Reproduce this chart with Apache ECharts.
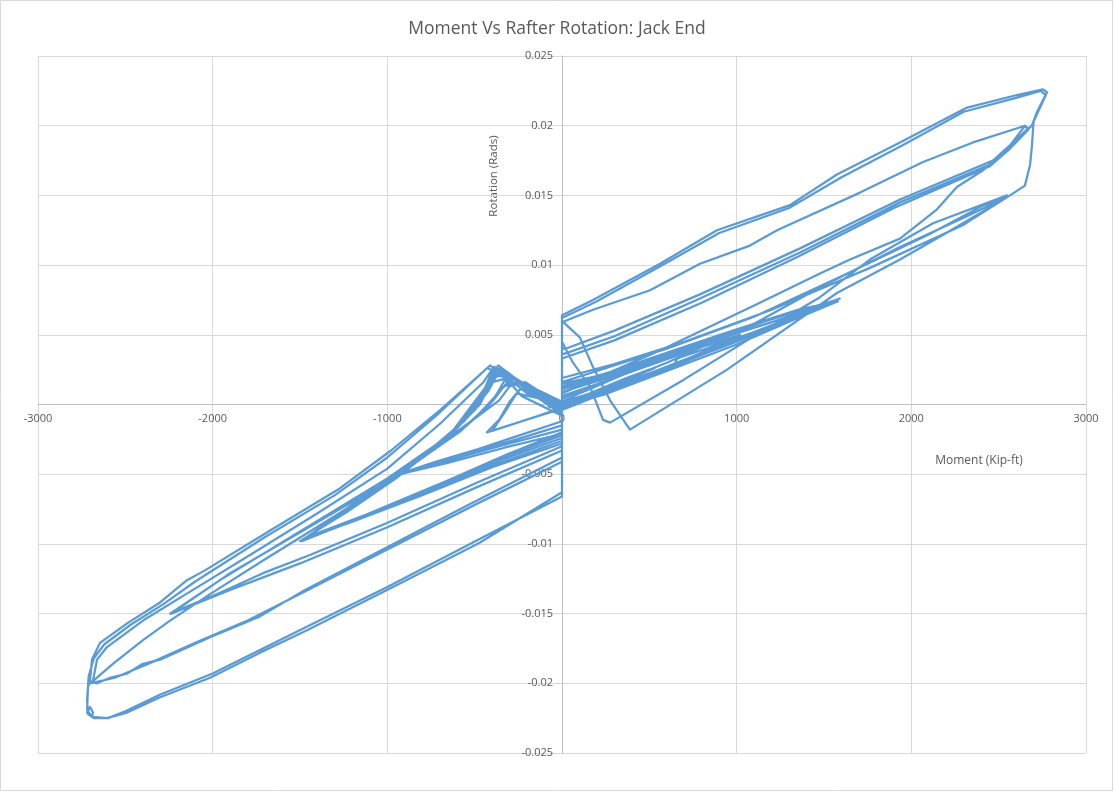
<!DOCTYPE html>
<html>
<head>
<meta charset="utf-8">
<script src="https://cdn.jsdelivr.net/npm/echarts@6/dist/echarts.min.js"></script>
<style>
  html, body { margin: 0; padding: 0; background: #ffffff; }
  #chart { width: 1114px; height: 792px; }
</style>
</head>
<body>
<div id="chart"></div>
<script>
// Moment (kip-ft) vs rafter rotation (rad), cyclic test record, one block per amplitude group.
const warmUp = [
  [0,0],[130,0.0006],[280,0.0013],[430,0.0021],[530,0.0026],[400,0.0020],[220,0.0011],[70,0.0003],[0,-0.0002],
  [-130,-0.0008],[-280,-0.0014],[-430,-0.0020],[-360,-0.0011],[-300,0.0002],[-240,0.0011],[-130,0.0007],[0,0.0001],
  [160,0.0008],[320,0.0016],[500,0.0025],[350,0.0018],[140,0.0007],[0,-0.0003],
  [-180,-0.0010],[-400,-0.0019],[-330,-0.0006],[-260,0.0008],[-150,0.0005],[0,0]
];

const cycles005 = [
  [220,0.0009],[480,0.0021],[740,0.0034],[1000,0.0048],[820,0.0042],[520,0.0030],[230,0.0016],[0,0.0006],
  [0,-0.0012],[-240,-0.0022],[-480,-0.0032],[-720,-0.0041],[-939,-0.0050],[-720,-0.0030],[-520,-0.0012],[-360,0.0003],[-300,0.0013],[-210,0.0016],[-100,0.0007],[0,-0.0002],
  [180,0.0006],[420,0.0018],[700,0.0031],[980,0.0046],[860,0.0045],[560,0.0033],[260,0.0019],[0,0.0009],
  [0,-0.0015],[-260,-0.0025],[-560,-0.0036],[-920,-0.0049],[-700,-0.0029],[-500,-0.0010],[-380,0.0006],[-330,0.0017],[-230,0.0014],[-80,0.0004],[0,-0.0004],
  [300,0.0011],[620,0.0026],[1020,0.0050],[840,0.0043],[430,0.0025],[120,0.0011],[0,0.0004],
  [0,-0.0018],[-300,-0.0028],[-620,-0.0039],[-950,-0.0051],[-760,-0.0034],[-540,-0.0014],[-400,0.0002],[-320,0.0015],[-240,0.0015],[0,0],
  [260,0.0012],[560,0.0025],[900,0.0041],[1010,0.0049],[760,0.0040],[380,0.0023],[100,0.0008],[0,0.0002],
  [0,-0.0021],[-330,-0.0031],[-660,-0.0042],[-930,-0.0050],[-740,-0.0033],[-580,-0.0019],[-420,-0.0001],[-350,0.0012],[-260,0.0016],[-120,0.0005],[0,-0.0001]
];

const cycles0075 = [
  [250,0.0009],[600,0.0026],[1000,0.0045],[1300,0.0060],[1574,0.0075],[1320,0.0066],[950,0.0051],[560,0.0034],[200,0.0018],[0,0.0011],
  [0,-0.0020],[-320,-0.0036],[-700,-0.0057],[-1100,-0.0078],[-1480,-0.0097],[-1200,-0.0073],[-900,-0.0047],[-640,-0.0022],[-470,0.0000],[-390,0.0020],[-300,0.0021],[-150,0.0009],[0,0.0001],
  [280,0.0010],[650,0.0028],[1050,0.0048],[1560,0.0074],[1280,0.0064],[880,0.0049],[480,0.0032],[150,0.0017],[0,0.0012],
  [0,-0.0024],[-350,-0.0040],[-750,-0.0061],[-1150,-0.0081],[-1490,-0.0098],[-1180,-0.0070],[-860,-0.0043],[-620,-0.0019],[-460,0.0004],[-380,0.0022],[-260,0.0018],[0,0],
  [220,0.0008],[500,0.0022],[640,0.0028],[660,0.0033],[1100,0.0052],[1590,0.0076],[1300,0.0063],[900,0.0047],[400,0.0028],[0,0.0013],
  [0,-0.0028],[-400,-0.0045],[-800,-0.0065],[-1200,-0.0084],[-1470,-0.0096],[-1150,-0.0067],[-800,-0.0038],[-560,-0.0012],[-420,0.0010],[-360,0.0024],[-230,0.0016],[0,0.0002],
  [330,0.0014],[700,0.0032],[1150,0.0053],[1400,0.0066],[1580,0.0074],[1350,0.0068],[1000,0.0054],[620,0.0038],[260,0.0022],[0,0.0015],
  [0,-0.0026],[-380,-0.0043],[-780,-0.0062],[-1180,-0.0083],[-1500,-0.0098],[-1230,-0.0077],[-940,-0.0052],[-700,-0.0028],[-500,-0.0004],[-400,0.0016],[-280,0.0020],[-120,0.0007],[0,-0.0001],
  [240,0.0007],[600,0.0024],[1000,0.0043],[1350,0.0062],[1560,0.0073],[1250,0.0061],[850,0.0046],[450,0.0029],[120,0.0014],[0,0.0009],
  [0,-0.0022],[-340,-0.0038],[-720,-0.0058],[-1120,-0.0079],[-1460,-0.0095],[-1160,-0.0069],[-880,-0.0045],[-600,-0.0017],[-450,0.0006],[-370,0.0021],[-250,0.0017],[0,0]
];

const cycles015 = [
  [200,0.0010],[600,0.0030],[1100,0.0058],[1477,0.0084],[1935,0.0113],[2300,0.0134],[2565,0.0150],
  [2300,0.0129],[1763,0.0098],[1200,0.0068],[700,0.0045],[300,0.0029],[0,0.0019],
  [0,-0.0030],[-469,-0.0055],[-1002,-0.0085],[-1443,-0.0108],[-1712,-0.0121],[-1958,-0.0135],[-2244,-0.0150],
  [-1958,-0.0126],[-1500,-0.0091],[-1000,-0.0053],[-620,-0.0020],[-440,0.0010],[-380,0.0025],[-300,0.0022],[-150,0.0008],[0,-0.0004],
  [0,0.0045],[63,0.0030],[160,0.0013],[235,-0.0011],[275,-0.0013],[700,0.0018],[1060,0.0046],[1477,0.0077],[1763,0.0104],[2124,0.0130],[2548,0.0150],
  [2400,0.0142],[2100,0.0122],[1600,0.0092],[1100,0.0063],[600,0.0040],[200,0.0024],[0,0.0016],
  [0,-0.0033],[-500,-0.0060],[-1000,-0.0088],[-1500,-0.0114],[-1900,-0.0133],[-2238,-0.0150],
  [-1900,-0.0121],[-1450,-0.0088],[-1000,-0.0055],[-650,-0.0024],[-460,0.0006],[-400,0.0024],[-320,0.0024],[-200,0.0012],[0,-0.0003]
];

const cycles020 = [
  [0,0.0008],[600,0.0041],[1100,0.0071],[1477,0.0094],[1649,0.0104],[1935,0.0119],[2147,0.0140],[2261,0.0156],[2410,0.0168],[2600,0.0190],[2668,0.0198],[2651,0.0200],
  [2560,0.0185],[2467,0.0173],[1935,0.0145],[1363,0.0109],[790,0.0076],[300,0.0049],[29,0.0037],[0,0.0036],
  [0,-0.0038],[-521,-0.0071],[-996,-0.0102],[-1471,-0.0133],[-1729,-0.0152],[-2015,-0.0167],[-2301,-0.0183],[-2399,-0.0186],[-2490,-0.0193],[-2588,-0.0196],[-2662,-0.0200],[-2691,-0.0199],
  [-2571,-0.0186],[-2399,-0.0169],[-2244,-0.0155],[-2015,-0.0136],[-1700,-0.0111],[-1300,-0.0080],[-900,-0.0048],[-620,-0.0018],[-440,0.0012],[-366,0.0028],[-300,0.0022],[-200,0.0012],[0,-0.0006],
  [0,0.0059],[177,0.0068],[504,0.0082],[790,0.0101],[1076,0.0114],[1231,0.0125],[1706,0.0152],[2067,0.0174],[2353,0.0188],[2651,0.0200],[2668,0.0197],
  [2560,0.0183],[2450,0.0171],[1900,0.0141],[1350,0.0106],[800,0.0073],[300,0.0046],[0,0.0033],
  [0,-0.0041],[-500,-0.0072],[-1000,-0.0104],[-1500,-0.0136],[-1800,-0.0155],[-2100,-0.0171],[-2350,-0.0185],[-2560,-0.0196],[-2702,-0.0200],
  [-2685,-0.0198],[-2662,-0.0183],[-2605,-0.0174],[-2399,-0.0155],[-2113,-0.0133],[-1800,-0.0109],[-1400,-0.0078],[-1000,-0.0046],[-700,-0.0014],[-450,0.0016],[-390,0.0027],[-320,0.0023],[-200,0.0010],[0,-0.0007]
];

const cycles0225 = [
  [0,0.0064],[177,0.0075],[561,0.0101],[887,0.0125],[1305,0.0143],[1574,0.0165],[1935,0.0188],[2319,0.0213],[2605,0.0222],[2754,0.0226],[2777,0.0224],
  [2720,0.0210],[2690,0.0200],[2467,0.0175],[1935,0.0147],[1363,0.0112],[790,0.0079],[300,0.0053],[20,0.0040],[0,0.0040],
  [0,-0.0063],[-469,-0.0099],[-813,-0.0121],[-1002,-0.0133],[-1460,-0.0162],[-1729,-0.0178],[-2015,-0.0196],[-2301,-0.0210],[-2490,-0.0221],[-2605,-0.0225],[-2685,-0.0224],[-2719,-0.0221],[-2702,-0.0217],[-2685,-0.0221],[-2691,-0.0224],[-2719,-0.0219],
  [-2714,-0.0203],[-2702,-0.0198],[-2691,-0.0183],[-2645,-0.0171],[-2490,-0.0157],[-2301,-0.0142],[-2147,-0.0126],[-2044,-0.0119],[-1666,-0.0090],[-1282,-0.0061],[-979,-0.0033],[-698,-0.0004],[-412,0.0028],[-330,0.0020],[-230,0.0006],[0,-0.0008],
  [0,0.0062],[200,0.0074],[560,0.0099],[900,0.0123],[1300,0.0141],[1600,0.0163],[1950,0.0186],[2300,0.0210],[2600,0.0220],[2740,0.0225],[2770,0.0222],
  [2700,0.0203],[2690,0.0185],[2680,0.0172],[2650,0.0157],[2565,0.0150],
  [2200,0.0123],[1935,0.0104],[1574,0.0080],[945,0.0025],[389,-0.0018],
  [275,0.0003],[177,0.0027],[103,0.0048],[17,0.0058],[0,0.0060],
  [0,-0.0066],[-480,-0.0097],[-1000,-0.0131],[-1470,-0.0160],[-2000,-0.0193],[-2300,-0.0208],[-2500,-0.0220],[-2599,-0.0225],[-2680,-0.0225],[-2714,-0.0222],
  [-2719,-0.0212],[-2710,-0.0195],[-2680,-0.0182],[-2620,-0.0172],[-2470,-0.0158],[-2280,-0.0143],[-2100,-0.0127],[-1700,-0.0095],[-1300,-0.0065],[-1000,-0.0038],[-720,-0.0008],[-430,0.0026],[-340,0.0022],[-200,0.0008],[0,0]
];

const testRecord = [].concat(warmUp, cycles005, cycles0075, cycles015, cycles020, cycles0225);

// Axis ranges and tick spacing
const momentRange = [-3000, 3000, 1000];
const rotationRange = [-0.025, 0.025, 0.005];

const TEXT = '#595959';
const GRID = '#d9d9d9';
const FONT = "'Open Sans', 'Liberation Sans', sans-serif";

// Plot box; both axes are drawn through the origin, inside the box
const box = { left: 38, right: 28, top: 56, bottom: 39 };
const W = 1114, H = 792;
const plotW = W - box.left - box.right;
const plotH = H - box.top - box.bottom;
const xZeroShift = plotW * (0 - momentRange[0]) / (momentRange[1] - momentRange[0]);
const yZeroShift = plotH * (rotationRange[1] - 0) / (rotationRange[1] - rotationRange[0]);

const chart = echarts.init(document.getElementById('chart'), null, { renderer: 'canvas' });
chart.setOption({
  animation: false,
  backgroundColor: '#ffffff',
  title: {
    text: 'Moment Vs Rafter Rotation: Jack End',
    left: 'center',
    top: 15,
    textStyle: { color: TEXT, fontSize: 17.5, fontWeight: 'normal', fontFamily: FONT }
  },
  grid: { left: box.left, right: box.right, top: box.top, bottom: box.bottom, containLabel: false },
  xAxis: {
    type: 'value',
    position: 'bottom',
    offset: -(plotH - yZeroShift),
    min: momentRange[0], max: momentRange[1], interval: momentRange[2],
    axisLine: { onZero: false, lineStyle: { color: '#bfbfbf', width: 1 } },
    axisTick: { show: false },
    axisLabel: { color: TEXT, fontSize: 11, fontFamily: FONT, margin: 9, formatter: v => String(v) },
    splitLine: { show: true, lineStyle: { color: GRID, width: 1 } }
  },
  yAxis: {
    type: 'value',
    position: 'left',
    offset: -xZeroShift,
    min: rotationRange[0], max: rotationRange[1], interval: rotationRange[2],
    axisLine: { onZero: false, lineStyle: { color: '#bfbfbf', width: 1 } },
    axisTick: { show: false },
    axisLabel: { color: TEXT, fontSize: 11, fontFamily: FONT, margin: 9, formatter: v => String(+v.toFixed(3)) },
    splitLine: { show: true, lineStyle: { color: GRID, width: 1 } }
  },
  graphic: [
    { type: 'rect', shape: { x: 0.5, y: 0.5, width: 1112, height: 790 }, style: { fill: 'none', stroke: '#d9d9d9', lineWidth: 1 }, silent: true },
    { type: 'text', x: 494, y: 176, rotation: Math.PI / 2,
      style: { text: 'Rotation (Rads)', fill: TEXT, font: "11.5px 'Open Sans', sans-serif", align: 'center', verticalAlign: 'middle' } },
    { type: 'text', x: 979, y: 461,
      style: { text: 'Moment (Kip-ft)', fill: TEXT, font: "12px 'Open Sans', sans-serif", align: 'center', verticalAlign: 'middle' } }
  ],
  series: [{
    type: 'line',
    data: testRecord,
    showSymbol: false,
    symbol: 'none',
    smooth: false,
    lineStyle: { color: '#5B9BD5', width: 2.25, join: 'round' },
    z: 3
  }]
});
</script>
</body>
</html>
